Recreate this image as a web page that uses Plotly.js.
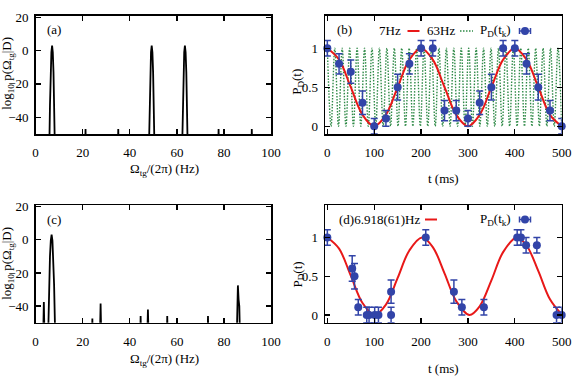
<!DOCTYPE html>
<html>
<head>
<meta charset="utf-8">
<script src="https://cdn.plot.ly/plotly-3.0.1.min.js"></script>
<style>html,body{margin:0;padding:0;background:#fff;}#chart{width:581px;height:378px;}</style>
</head>
<body>
<div id="chart"></div>
<script>
// ---------- Panel (a): log10 posterior vs frequency (Hz) ----------
const freqA = [0, 5.8, 6.1, 6.4, 6.7, 7.0, 7.3, 7.6, 7.9, 8.2,
  20.9, 21.2, 21.5, 34.8, 35.1, 35.4,
  48.1, 48.4, 48.7, 49.0, 49.3, 49.6, 49.9, 50.2, 50.5,
  62.2, 62.5, 62.8, 63.1, 63.4, 63.7, 64.0, 64.3, 64.6,
  77.4, 77.7, 78.0, 91.5, 91.8, 92.1, 100];
const logpA = [-100, -60, -33, -13, -1, 3, -1, -13, -33, -60,
  -70, -47, -70, -70, -47, -70,
  -60, -33, -13, -1, 3, -1, -13, -33, -60,
  -60, -33, -13, -1, 3, -1, -13, -33, -60,
  -70, -47, -70, -70, -47, -70, -100];

// ---------- Panel (c): log10 posterior vs frequency (Hz) ----------
const freqC = [0, 3.2, 3.5, 3.8, 5.2, 5.4, 5.75, 6.1, 6.45, 6.8, 7.15, 7.5, 7.85, 8.2, 8.4,
  23.8, 24.1, 24.4, 27.3, 27.6, 27.9, 44.3, 44.6, 44.9, 47.4, 47.7, 48.0,
  55.6, 55.9, 56.2, 72.9, 73.2, 73.5, 85.4, 85.9, 86.2, 86.5, 86.8, 100];
const logpC = [-100, -60, -37.5, -60, -66, -50, -27, -10, -0.5, 3.2, -0.5, -10, -27, -50, -66,
  -70, -47.5, -70, -60, -38.5, -60, -70, -46, -70, -60, -42, -60,
  -70, -46, -70, -70, -46, -70, -60, -27.5, -36, -40, -60, -100];

// ---------- Panel (b): measured P_D(t_k) and model curves ----------
const tB = [0, 25, 50, 75, 100, 125, 150, 175, 200, 225, 250, 275, 300, 325, 350, 375, 400, 425, 450, 475, 500];
const pB = [1, 0.8, 0.7, 0.3, 0, 0.1, 0.5, 0.8, 1, 1, 0.2, 0.2, 0.1, 0.3, 0.5, 1, 1, 0.8, 0.5, 0.2, 0];
const errB = [0.1, 0.13, 0.15, 0.15, 0.1, 0.1, 0.165, 0.13, 0.1, 0.1, 0.13, 0.13, 0.1, 0.15, 0.165, 0.1, 0.1, 0.13, 0.165, 0.13, 0.1];

const tRedB = [0, 25, 50, 75, 100, 125, 150, 175, 200, 225, 250, 275, 300, 325, 350, 375, 400, 425, 450, 475, 500];
const pRedB = [1, 0.854, 0.5, 0.146, 0, 0.146, 0.5, 0.854, 1, 0.854, 0.5, 0.146, 0, 0.146, 0.5, 0.854, 1, 0.854, 0.5, 0.146, 0];

// 63 Hz curve: times of its maxima / minima
const tGreenB = [0, 7.9, 15.9, 23.8, 31.7, 39.7, 47.6, 55.6, 63.5, 71.4, 79.4, 87.3, 95.2, 103.2, 111.1, 119.0,
  127.0, 134.9, 142.9, 150.8, 158.7, 166.7, 174.6, 182.5, 190.5, 198.4, 206.3, 214.3, 222.2, 230.2, 238.1, 246.0,
  254.0, 261.9, 269.8, 277.8, 285.7, 293.7, 301.6, 309.5, 317.5, 325.4, 333.3, 341.3, 349.2, 357.1, 365.1, 373.0,
  381.0, 388.9, 396.8, 404.8, 412.7, 420.6, 428.6, 436.5, 444.4, 452.4, 460.3, 468.3, 476.2, 484.1, 492.1, 500.0];
const pGreenB = [1,0,1,0,1,0,1,0,1,0,1,0,1,0,1,0, 1,0,1,0,1,0,1,0,1,0,1,0,1,0,1,0,
  1,0,1,0,1,0,1,0,1,0,1,0,1,0,1,0, 1,0,1,0,1,0,1,0,1,0,1,0,1,0,1,0];

// ---------- Panel (d): measured P_D(t_k) and fitted curve ----------
const tD = [0, 53, 58, 66, 84, 89, 101, 109, 136, 136, 210, 270, 287, 334, 405, 413, 424, 447, 489, 500];
const pD = [1, 0.6, 0.5, 0.1, 0, 0, 0, 0, 0.3, 0, 1, 0.3, 0.1, 0.1, 1, 1, 0.9, 0.9, 0, 0];
const errD = [0.1, 0.165, 0.165, 0.1, 0.1, 0.1, 0.1, 0.1, 0.15, 0.1, 0.1, 0.15, 0.1, 0.1, 0.1, 0.1, 0.1, 0.1, 0.1, 0.1];

const tRedD = [0, 25, 50, 75, 101, 125, 150, 175, 202, 225, 250, 275, 303, 325, 350, 375, 404, 425, 450, 475, 500];
const pRedD = [1, 0.856, 0.507, 0.155, 0, 0.133, 0.478, 0.833, 1, 0.877, 0.538, 0.179, 0, 0.112, 0.446, 0.811, 1, 0.897, 0.569, 0.202, 0.006];

// ---------- Text ----------
const xTitleSpec = 'Ω<sub>tg</sub>/(2π) (Hz)';
const yTitleSpec = 'log<sub>10</sub> p(Ω<sub>tg</sub>|D)';
const xTitleTime = 't (ms)';
const yTitleTime = 'P<sub>D</sub>(t)';
const legRedB = '7Hz', legGreenB = '63Hz', legData = 'P<sub>D</sub>(t<sub>k</sub>)';
const legRedD = '(d)6.918(61)Hz';

// ---------- Styling ----------
const F = '"Liberation Serif", "DejaVu Serif", serif';
const FS = 13;
const BLUE = '#3244a8', RED = '#e81818', GREEN = '#2f8a47';
const W = 581, H = 378;
const px = v => v / W, py = v => 1 - v / H;

const axBase = {
  showline: true, linecolor: '#000', linewidth: 1.5, mirror: 'ticks',
  ticks: 'inside', ticklen: 5, tickwidth: 1.3, tickcolor: '#000',
  showgrid: false, zeroline: false, fixedrange: true,
  tickfont: {family: F, size: FS, color: '#000'}
};
const xL = [35.6 / W, 271.1 / W], xR = [325 / W, 561.7 / W];
const yT = [1 - 134 / H, 1 - 15.5 / H], yBt = [1 - 322.7 / H, 1 - 205 / H];

const specX = d => Object.assign({}, axBase, {domain: d, range: [0, 100], tickvals: [0, 20, 40, 60, 80, 100], ticklabelstandoff: 6});
const specY = (d, anc) => Object.assign({}, axBase, {domain: d, range: [-50, 21], tickvals: [-40, -20, 0, 20], anchor: anc, ticklabelstandoff: 3});
const timeX = d => Object.assign({}, axBase, {domain: d, range: [-5, 500], tickvals: [0, 100, 200, 300, 400, 500], ticklabelstandoff: 6});
const timeY = (d, anc) => Object.assign({}, axBase, {domain: d, range: [-0.1, 1.42], tickvals: [0, 0.5, 1], anchor: anc, ticklabelstandoff: 3});

const errStyle = arr => ({type: 'data', array: arr, visible: true, color: BLUE, thickness: 1.5, width: 3.5});
const GDASH = '1.5px,1.5px';

const traces = [
  {x: freqA, y: logpA, xaxis: 'x', yaxis: 'y', mode: 'lines', line: {color: '#000', width: 1.8}},
  {x: tGreenB, y: pGreenB, xaxis: 'x2', yaxis: 'y2', mode: 'lines', line: {color: GREEN, width: 1.4, dash: GDASH, shape: 'spline', smoothing: 1, simplify: false}},
  {x: tRedB, y: pRedB, xaxis: 'x2', yaxis: 'y2', mode: 'lines', line: {color: RED, width: 2, shape: 'spline', smoothing: 1}},
  {x: tB, y: pB, xaxis: 'x2', yaxis: 'y2', mode: 'markers', marker: {color: BLUE, size: 8}, error_y: errStyle(errB), cliponaxis: false},
  {x: freqC, y: logpC, xaxis: 'x3', yaxis: 'y3', mode: 'lines', line: {color: '#000', width: 1.8}},
  {x: tRedD, y: pRedD, xaxis: 'x4', yaxis: 'y4', mode: 'lines', line: {color: RED, width: 2, shape: 'spline', smoothing: 1}},
  {x: tD, y: pD, xaxis: 'x4', yaxis: 'y4', mode: 'markers', marker: {color: BLUE, size: 8}, error_y: errStyle(errD), cliponaxis: false}
];

const txt = (text, x, y, xa, extra) => Object.assign({
  text: text, xref: 'paper', yref: 'paper', x: px(x), y: py(y), xanchor: xa || 'center', yanchor: 'middle',
  showarrow: false, font: {family: F, size: FS, color: '#000'}
}, extra || {});

const annotations = [
  txt('(a)', 54, 30),
  txt('(c)', 54, 219),
  txt('(b)', 344.7, 29.5),
  txt(legRedB, 403, 31, 'right'),
  txt(legGreenB, 456.5, 31, 'right'),
  txt(legData, 513, 31, 'right'),
  txt(legRedD, 336.5, 219.5, 'left'),
  txt(legData, 513, 219.5, 'right'),
  txt(xTitleSpec, 164, 169),
  txt(xTitleSpec, 164, 359),
  txt(xTitleTime, 443.7, 179),
  txt(xTitleTime, 443.7, 368),
  txt(yTitleSpec, 7.5, 73.3, 'center', {textangle: -90}),
  txt(yTitleSpec, 7.5, 263.3, 'center', {textangle: -90}),
  txt(yTitleTime, 297.5, 82.3, 'center', {textangle: -90}),
  txt(yTitleTime, 297.5, 275, 'center', {textangle: -90})
];

const hl = (x0, x1, y, color, width, dash) => ({type: 'line', xref: 'paper', yref: 'paper', x0: px(x0), x1: px(x1), y0: py(y), y1: py(y), line: {color: color, width: width, dash: dash || 'solid'}});
const vl = (x, y0, y1, color, width) => ({type: 'line', xref: 'paper', yref: 'paper', x0: px(x), x1: px(x), y0: py(y0), y1: py(y1), line: {color: color, width: width}});
const dot = (cx, cy, r) => ({type: 'circle', xref: 'paper', yref: 'paper', x0: px(cx - r), x1: px(cx + r), y0: py(cy + r), y1: py(cy - r), fillcolor: BLUE, line: {color: BLUE, width: 0}});
const symData = (cx, cy) => [hl(cx - 5.5, cx + 5.5, cy, BLUE, 1.5), vl(cx - 5.5, cy - 3, cy + 3, BLUE, 1.5), vl(cx + 5.5, cy - 3, cy + 3, BLUE, 1.5), dot(cx, cy, 4)];

const shapes = [
  hl(407.5, 419.5, 31, RED, 2),
  hl(460, 473, 31, GREEN, 1.4, GDASH),
  ...symData(525, 31),
  hl(425, 437, 219.5, RED, 2),
  ...symData(525, 219.5)
];

const layout = {
  width: W, height: H, margin: {l: 0, r: 0, t: 0, b: 0},
  paper_bgcolor: '#fff', plot_bgcolor: '#fff', showlegend: false,
  font: {family: F, size: FS, color: '#000'},
  xaxis: Object.assign(specX(xL), {anchor: 'y'}),
  yaxis: specY(yT, 'x'),
  xaxis2: Object.assign(timeX(xR), {anchor: 'y2'}),
  yaxis2: timeY(yT, 'x2'),
  xaxis3: Object.assign(specX(xL), {anchor: 'y3'}),
  yaxis3: specY(yBt, 'x3'),
  xaxis4: Object.assign(timeX(xR), {anchor: 'y4'}),
  yaxis4: timeY(yBt, 'x4'),
  annotations: annotations,
  shapes: shapes
};

Plotly.newPlot('chart', traces, layout, {staticPlot: true, displayModeBar: false});
</script>
</body>
</html>
